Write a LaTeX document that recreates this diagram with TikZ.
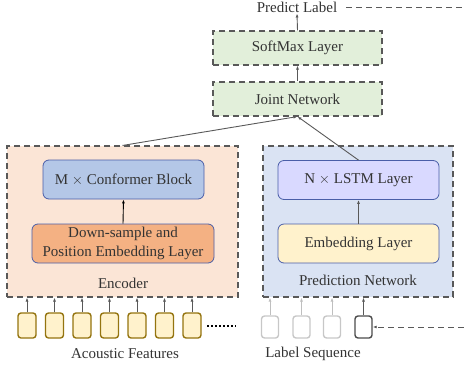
\documentclass[tikz,border=0pt]{standalone}
\usepackage{fontspec}
\setmainfont{Liberation Serif}
\usetikzlibrary{arrows.meta,positioning}
\definecolor{jointgreen}{HTML}{E2EFDA}
\definecolor{encpeach}{HTML}{FBE5D6}
\definecolor{predblue}{HTML}{DAE3F3}
\definecolor{confblue}{HTML}{B4C7E7}
\definecolor{downorange}{HTML}{F4B183}
\definecolor{lstmlav}{HTML}{D9D9FF}
\definecolor{embyellow}{HTML}{FFF2CC}
\definecolor{edgeblue}{HTML}{4A5EA8}
\definecolor{featgold}{HTML}{94740F}
\tikzset{
txt/.style={font=\fontsize{15}{19}\selectfont, text=black!80, inner sep=1pt},
outerbox/.style={
  draw=black!65, line width=1.1pt, dash pattern=on 6pt off 4pt,
  minimum width=#1, minimum height=151pt, inner sep=0pt
  },
layerbox/.style={
  txt, draw=edgeblue, line width=0.8pt, rounded corners=6pt,
  minimum width=161pt, minimum height=39pt, align=center, inner sep=0pt
  },
headbox/.style={
  txt, draw=black!65, line width=1.1pt, dash pattern=on 6pt off 4pt,
  fill=jointgreen, minimum width=169pt, minimum height=34pt, inner sep=0pt
  },
featbox/.style={
  draw=featgold, fill=embyellow, line width=1.4pt, rounded corners=3pt,
  minimum width=18pt, minimum height=25pt, inner sep=0pt
  },
labbox/.style={
  draw=#1, line width=1.4pt, rounded corners=3pt,
  minimum width=17pt, minimum height=22pt, inner sep=0pt
  }
}

\begin{document}
\begin{tikzpicture}[x=1pt, y=-1pt, >={Latex[length=4pt,width=3pt]}]
\useasboundingbox (0,0) rectangle (465,370);

% output side
\node[txt] (predict) at (297,7) {Predict Label};
\node[headbox] (softmax) at (297.5,48) {SoftMax Layer};
\node[headbox] (joint) at (297.5,99) {Joint Network};

% encoder
\node[outerbox=231pt, fill=encpeach] (enc) at (122.5,221.5) {};
\node[layerbox, fill=confblue] (conf) at (123.5,179.5) {M $\times$ Conformer Block};
\node[layerbox, fill=downorange, minimum width=182pt] (down) at (123,243.5)
  {Down-sample and\\Position Embedding Layer};
\node[txt] (enclab) at (123,283) {Encoder};

% prediction network
\node[outerbox=190pt, fill=predblue] (prednet) at (358,221.5) {};
\node[layerbox, fill=lstmlav] (lstm) at (358.5,180) {N $\times$ LSTM Layer};
\node[layerbox, fill=embyellow] (emb) at (358.5,243.5) {Embedding Layer};
\node[txt] (predlab) at (358,280) {Prediction Network};

% acoustic features
\node[featbox] (f1) at (27,325.5) {};
\node[featbox] (f2) at (54.5,325.5) {};
\node[featbox] (f3) at (82,325.5) {};
\node[featbox] (f4) at (109.5,325.5) {};
\node[featbox] (f5) at (137,325.5) {};
\node[featbox] (f6) at (164.5,325.5) {};
\node[featbox] (f7) at (192,325.5) {};
\coordinate (dots1) at (207,326);
\coordinate (dots2) at (236,326);
\node[txt] (acoustic) at (125,354) {Acoustic Features};

% label sequence
\node[labbox=black!22] (l1) at (270,327) {};
\node[labbox=black!22] (l2) at (301.5,327) {};
\node[labbox=black!22] (l3) at (332,327) {};
\node[labbox=black!70] (l4) at (363.5,327) {};
\node[txt] (labseq) at (313,354) {Label Sequence};
\coordinate (edge) at (470,0);

\begin{scope}[line width=0.9pt, draw=black!65]
\draw[->] (softmax.north) -- (predict.south);
\draw[->] (joint.north) -- (softmax.south);
\draw[->] (enc.north) -- (joint.south);
\draw[->] (lstm.north) -- (joint.south);
\draw[->, black] (down.north) -- (conf.south);
\draw[->] (emb.north) -- (lstm.south);
\draw[->] (f1.north) -- (f1.north |- enc.south);
\draw[->] (f2.north) -- (f2.north |- enc.south);
\draw[->] (f3.north) -- (f3.north |- enc.south);
\draw[->] (f4.north) -- (f4.north |- enc.south);
\draw[->] (f5.north) -- (f5.north |- enc.south);
\draw[->] (f6.north) -- (f6.north |- enc.south);
\draw[->] (f7.north) -- (f7.north |- enc.south);
\draw[->, black!25] (l1.north) -- (l1.north |- prednet.south);
\draw[->, black!25] (l2.north) -- (l2.north |- prednet.south);
\draw[->, black!25] (l3.north) -- (l3.north |- prednet.south);
\draw[->] (l4.north) -- (l4.north |- prednet.south);
\draw[line width=1.6pt, black, dash pattern=on 1.6pt off 2.4pt] (dots1) -- (dots2);
\draw[->, dash pattern=on 6pt off 4pt, shorten <=8pt]
  (predict.east) -- (predict.east -| edge) |- (l4.east);
\end{scope}
\end{tikzpicture}
\end{document}
